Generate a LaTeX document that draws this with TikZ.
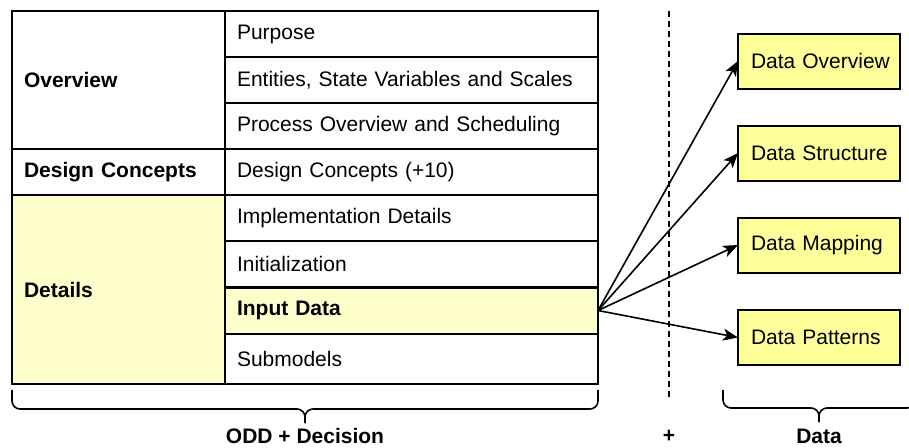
\documentclass[tikz,border=0pt]{standalone}
\usepackage{fontspec}
\setmainfont{Liberation Sans}
\usetikzlibrary{arrows.meta}
\definecolor{paleyel}{HTML}{FFFFCC}
\definecolor{boxyel}{HTML}{FFFF99}
\begin{document}
\begin{tikzpicture}[x=1pt,y=-1pt,
  every node/.style={font=\fontsize{21}{25}\selectfont, outer sep=0pt},
  lcell/.style={draw, line width=2pt, minimum width=213pt, inner xsep=12pt, text width=189pt, align=left},
  rcell/.style={draw, line width=2pt, minimum width=373pt, minimum height=46pt, inner xsep=12pt, text width=349pt, align=left},
  dbox/.style={draw, line width=2pt, fill=boxyel, minimum width=162pt, minimum height=55pt, inner xsep=13pt, text width=136pt, align=left},
  conn/.style={line width=1.6pt, -{Stealth[length=15pt, width=12pt, inset=4pt]}},
  brace/.style={line width=1.6pt, rounded corners=8pt},
  lbl/.style={font=\fontsize{21}{25}\selectfont\bfseries, inner ysep=1pt}
]
\clip (0,0) rectangle (909,447);
% left column
\node[lcell, minimum height=138pt] (ov) at (118.5,80) {\textbf{Overview}};
\node[lcell, minimum height=46pt] (dcl) at (118.5,172) {\textbf{Design Concepts}};
\node[lcell, minimum height=189pt, fill=paleyel] (det) at (118.5,289.5) {\textbf{Details}};
% right column
\node[rcell] (pur) at (411.5,34) {Purpose};
\node[rcell] (ent) at (411.5,80) {Entities, State Variables and Scales};
\node[rcell] (pro) at (411.5,126) {Process Overview and Scheduling};
\node[rcell] (dcr) at (411.5,172) {Design Concepts (+10)};
\node[rcell] (imp) at (411.5,218) {Implementation Details};
\node[rcell] (ini) at (411.5,264) {Initialization};
\node[rcell, fill=paleyel] (inp) at (411.5,310.5) {\textbf{Input Data}};
\node[rcell, minimum height=50pt] (sub) at (411.5,358.5) {Submodels};
% data boxes
\node[dbox] (dov) at (819,61) {\mbox{Data Overview}};
\node[dbox] (dst) at (819,153) {\mbox{Data Structure}};
\node[dbox] (dma) at (819,245) {\mbox{Data Mapping}};
\node[dbox] (dpa) at (819,337.5) {\mbox{Data Patterns}};
% dashed separator
\coordinate (dtop) at (669,11);
\coordinate (dbot) at (669,400);
\draw[line width=1.6pt, dash pattern=on 6pt off 4pt] (dtop) -- (dbot);
% connectors
\draw[conn] (inp.east) -- (dov.west);
\draw[conn] (inp.east) -- (dst.west);
\draw[conn] (inp.east) -- (dma.west);
\draw[conn] (inp.east) -- (dpa.west);
% braces
\draw[brace] (12,390) -- (12,409) -- (305,409) -- (305,423);
\draw[brace] (598,390) -- (598,409) -- (305,409) -- (305,423);
\draw[brace] (723,390) -- (723,408) -- (819,408) -- (819,422);
\draw[brace] (915,390) -- (915,408) -- (819,408) -- (819,422);
% labels
\node[lbl] (odd) at (305,436) {ODD + Decision};
\node[lbl] (plus) at (669,436) {+};
\node[lbl] (dat) at (819,436) {Data};
\end{tikzpicture}
\end{document}
